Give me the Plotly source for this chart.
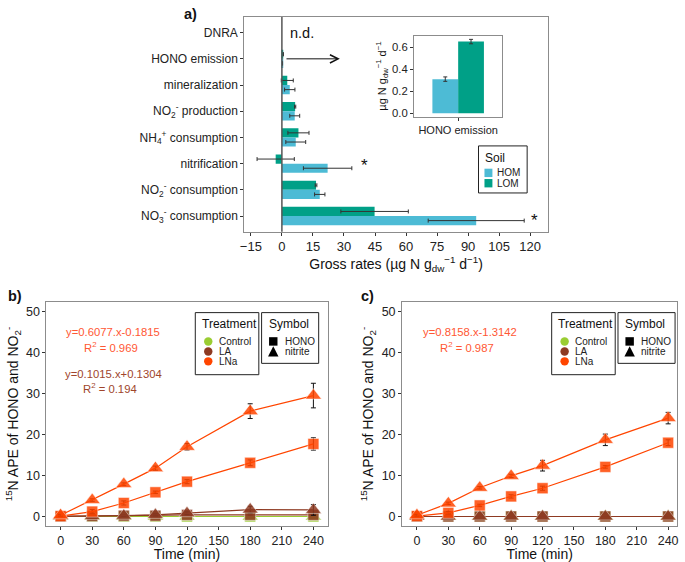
import plotly.graph_objects as go

W, H = 685, 562
FONT = "Liberation Sans, Arial, sans-serif"

# ---- panel a data ----
processes = ["DNRA", "HONO emission", "mineralization",
             "NO<sub>2</sub><sup>-</sup> production",
             "NH<sub>4</sub><sup>+</sup> consumption", "nitrification",
             "NO<sub>2</sub><sup>-</sup> consumption",
             "NO<sub>3</sub><sup>-</sup> consumption"]
hom = [None, 0.31, 3.8, 6.2, 6.7, 22.1, 18.3, 93.9]
hom_err = [None, 0.02, 2.5, 2.4, 4.8, 11.7, 2.5, 23.2]
lom = [None, 0.65, 2.6, 6.4, 8.0, -3.0, 16.5, 44.8]
lom_err = [None, 0.02, 2.9, 0.3, 5.1, 9.0, 0.4, 16.3]

inset_cat = ["HONO emission"]
inset_hom = [0.31]
inset_hom_err = [0.02]
inset_lom = [0.65]
inset_lom_err = [0.02]

# ---- panels b, c data ----
time = [0, 30, 60, 90, 120, 180, 240]
b_lna_nitrite = [0.3, 4.0, 7.9, 11.8, 17.0, 25.7, 29.5]
b_lna_nitrite_err = [0.2, 0.3, 0.3, 0.5, 0.8, 1.8, 3.0]
b_lna_hono = [0.1, 1.2, 3.3, 5.9, 8.5, 13.1, 17.7]
b_lna_hono_err = [0.1, 0.5, 0.5, 0.3, 0.5, 0.7, 1.5]
b_la_nitrite = [0.1, 0.1, 0.2, 0.4, 0.8, 1.7, 1.6]
b_la_nitrite_err = [0.0, 0.1, 0.1, 0.2, 0.3, 0.8, 1.3]
b_la_hono = [0.0, 0.1, 0.2, 0.2, 0.4, 0.4, 0.4]
b_la_hono_err = [0.0, 0.1, 0.1, 0.1, 0.1, 0.1, 0.1]
b_ctrl_nitrite = [0.0, 0.0, 0.0, 0.0, 0.0, 0.0, 0.0]
b_ctrl_hono = [0.0, 0.0, 0.0, 0.0, 0.0, 0.0, 0.0]

c_lna_nitrite = [0.3, 3.2, 7.0, 9.9, 12.4, 18.7, 24.0]
c_lna_nitrite_err = [0.2, 0.3, 0.3, 0.4, 1.3, 1.4, 1.4]
c_lna_hono = [0.1, 0.9, 2.7, 4.9, 6.9, 12.1, 18.0]
c_lna_hono_err = [0.1, 0.3, 0.3, 0.4, 0.5, 0.3, 0.7]
c_la_nitrite = [0.0, 0.0, 0.0, 0.0, 0.0, 0.0, 0.0]
c_la_hono = [0.0, 0.0, 0.0, 0.0, 0.0, 0.0, 0.0]
c_ctrl_nitrite = [0.0, 0.0, 0.0, 0.0, 0.0, 0.0, 0.0]
c_ctrl_hono = [0.0, 0.0, 0.0, 0.0, 0.0, 0.0, 0.0]

HOM_C = "#4DBBD5"
LOM_C = "#00A087"
CTRL_C = "#9ACD32"
LA_C = "#8E3A22"
LNA_C = "#FF4500"


def px(x):
    return x / W


def py(y):
    return 1 - y / H


fig = go.Figure()

# panel a bars (green above, blue below)
fig.add_trace(go.Bar(y=processes, x=lom, orientation="h", width=0.35, offset=-0.35,
                     marker=dict(color=LOM_C, line_width=0), xaxis="x", yaxis="y",
                     error_x=dict(type="data", array=lom_err, color="#333", thickness=1, width=2),
                     showlegend=False))
fig.add_trace(go.Bar(y=processes, x=hom, orientation="h", width=0.35, offset=0,
                     marker=dict(color=HOM_C, line_width=0), xaxis="x", yaxis="y",
                     error_x=dict(type="data", array=hom_err, color="#333", thickness=1, width=2),
                     showlegend=False))

# inset bars
fig.add_trace(go.Bar(x=inset_cat, y=inset_hom, width=0.35, offset=-0.35,
                     marker=dict(color=HOM_C, line_width=0), xaxis="x2", yaxis="y2",
                     error_y=dict(type="data", array=inset_hom_err, color="#333", thickness=1, width=2),
                     showlegend=False))
fig.add_trace(go.Bar(x=inset_cat, y=inset_lom, width=0.35, offset=0,
                     marker=dict(color=LOM_C, line_width=0), xaxis="x2", yaxis="y2",
                     error_y=dict(type="data", array=inset_lom_err, color="#333", thickness=1, width=2),
                     showlegend=False))


def add_series(xa, ya, y, err, color, symbol, size):
    fig.add_trace(go.Scatter(
        x=time, y=y, mode="lines+markers", xaxis=xa, yaxis=ya, showlegend=False,
        line=dict(color=color, width=1.2),
        marker=dict(symbol=symbol, size=size, color=color, opacity=0.85,
                    line=dict(color="rgba(255,255,255,0.5)", width=1)),
        error_y=dict(type="data", array=err, color="#111", thickness=1, width=2.5)
        if err is not None else None))


zeros_err = None
add_series("x3", "y3", b_ctrl_hono, zeros_err, CTRL_C, "square", 11)
add_series("x3", "y3", b_ctrl_nitrite, zeros_err, CTRL_C, "triangle-up", 14)
add_series("x3", "y3", b_la_hono, b_la_hono_err, LA_C, "square", 11)
add_series("x3", "y3", b_la_nitrite, b_la_nitrite_err, LA_C, "triangle-up", 14)
add_series("x3", "y3", b_lna_hono, b_lna_hono_err, LNA_C, "square", 11)
add_series("x3", "y3", b_lna_nitrite, b_lna_nitrite_err, LNA_C, "triangle-up", 14)

add_series("x4", "y4", c_ctrl_hono, zeros_err, CTRL_C, "square", 11)
add_series("x4", "y4", c_ctrl_nitrite, zeros_err, CTRL_C, "triangle-up", 14)
add_series("x4", "y4", c_la_hono, zeros_err, LA_C, "square", 11)
add_series("x4", "y4", c_la_nitrite, zeros_err, LA_C, "triangle-up", 14)
add_series("x4", "y4", c_lna_hono, c_lna_hono_err, LNA_C, "square", 11)
add_series("x4", "y4", c_lna_nitrite, c_lna_nitrite_err, LNA_C, "triangle-up", 14)


def axis(size=12.5, **kw):
    d = dict(showline=True, mirror=True, linecolor="#8c8c8c", linewidth=1,
             ticks="outside", ticklen=3, tickcolor="#333", showgrid=False,
             zeroline=False, tickfont=dict(size=size, color="#222", family=FONT))
    d.update(kw)
    return d


title_font = dict(size=14, color="#111", family=FONT)
ytitle_b = "<sup>15</sup>N APE of HONO and NO<sub>2</sub><sup>-</sup>"
xticks_bc = [0, 30, 60, 90, 120, 150, 180, 210, 240]

fig.update_layout(
    width=W, height=H, margin=dict(l=0, r=0, t=0, b=0),
    paper_bgcolor="white", plot_bgcolor="white", showlegend=False, hovermode=False,
    font=dict(family=FONT, color="#222"),
    xaxis=axis(13, domain=[px(242), px(548)], range=[-18.2, 128.6], tickvals=list(range(-15, 121, 15)),
               anchor="y", title=dict(text="Gross rates (µg N g<sub>dw</sub><sup>−1</sup> d<sup>−1</sup>)",
                                      font=title_font, standoff=3)),
    yaxis=axis(12, domain=[py(233), py(17)], type="category", categoryorder="array",
               categoryarray=processes, range=[7.6, -0.6], anchor="x"),
    xaxis2=axis(11, domain=[px(413), px(502)], range=[-0.6, 0.6], type="category", anchor="y2"),
    yaxis2=axis(11.3, domain=[py(117.3), py(35.7)], range=[-0.03, 0.705], tickvals=[0, 0.2, 0.4, 0.6],
                tickformat=".1f", anchor="x2",
                title=dict(text="µg N g<sub>dw</sub><sup>−1</sup> d<sup>−1</sup>",
                           font=dict(size=11, color="#111", family=FONT), standoff=3)),
    xaxis3=axis(12.5, domain=[px(42.7), px(326)], range=[-13.5, 253.5], tickvals=xticks_bc,
                anchor="y3", title=dict(text="Time (min)", font=title_font, standoff=3)),
    yaxis3=axis(12.5, domain=[py(529.3), py(303.3)], range=[-2.43, 52.4], tickvals=[0, 10, 20, 30, 40, 50],
                anchor="x3", title=dict(text=ytitle_b, font=title_font, standoff=4)),
    xaxis4=axis(12.5, domain=[px(401), px(678.3)], range=[-14.2, 248.8], tickvals=xticks_bc,
                anchor="y4", title=dict(text="Time (min)", font=title_font, standoff=3)),
    yaxis4=axis(12.5, domain=[py(529.3), py(303.3)], range=[-2.43, 52.4], tickvals=[0, 10, 20, 30, 40, 50],
                anchor="x4", title=dict(text=ytitle_b, font=title_font, standoff=4)),
)

shapes = []
ann = []


def label(x, y, text, size, color="#222", anchor="left"):
    ann.append(dict(x=px(x), y=py(y), xref="paper", yref="paper", text=text, showarrow=False,
                    xanchor=anchor, yanchor="middle", borderpad=0,
                    font=dict(size=size, color=color)))


# zero line in panel a
shapes.append(dict(type="line", xref="x", yref="paper", x0=0, x1=0, y0=py(233), y1=py(17),
                   line=dict(color="#555", width=1.5), layer="above"))

# annotations for panel a
ann.append(dict(x=9.8, y="DNRA", xref="x", yref="y", text="n.d.", showarrow=False,
                font=dict(size=14.5, color="#111"), xanchor="center", yanchor="middle"))
ann.append(dict(x=28, y="HONO emission", xref="x", yref="y", ax=1.5, ay="HONO emission",
                axref="x", ayref="y", text="", showarrow=True, arrowhead=5, arrowsize=1.6,
                arrowwidth=1, arrowcolor="#111"))
ann.append(dict(x=40, y="nitrification", xref="x", yref="y", text="*", showarrow=False,
                xanchor="center", yanchor="middle", font=dict(size=17, color="#111"), yshift=-2))
ann.append(dict(x=122, y="NO<sub>3</sub><sup>-</sup> consumption", xref="x", yref="y", text="*",
                xanchor="center", yanchor="middle", showarrow=False,
                font=dict(size=17, color="#111"), yshift=-4))

# panel labels
for lab, x, y in [("a)", 188, 14), ("b)", 11, 298), ("c)", 366, 298)]:
    label(x, y, "<b>%s</b>" % lab, 14.5, "#111", "center")

# Soil legend box
shapes.append(dict(type="rect", xref="paper", yref="paper", x0=px(478), x1=px(527), y0=py(194),
                   y1=py(146.7), line=dict(color="#222", width=1), fillcolor="white"))
label(484, 159, "Soil", 12, "#111")
for name, col, yy in [("HOM", HOM_C, 173.8), ("LOM", LOM_C, 184.2)]:
    shapes.append(dict(type="rect", xref="paper", yref="paper", x0=px(484), x1=px(492),
                       y0=py(yy + 4.2), y1=py(yy - 4.2), line_width=0, fillcolor=col))
    label(496, yy, name, 10)


def treat_symbol_legends(dx):
    shapes.append(dict(type="rect", xref="paper", yref="paper", x0=px(192.7 + dx), x1=px(256.7 + dx),
                       y0=py(376.7), y1=py(314.3), line=dict(color="#222", width=1), fillcolor="white"))
    label(198 + dx, 326, "Treatment", 12, "#111")
    for name, col, yy in [("Control", CTRL_C, 343.3), ("LA", LA_C, 353.3), ("LNa", LNA_C, 363.3)]:
        shapes.append(dict(type="circle", xref="paper", yref="paper", x0=px(201.5 + dx),
                           x1=px(210 + dx), y0=py(yy + 4.25), y1=py(yy - 4.25), line_width=0,
                           fillcolor=col))
        label(215.5 + dx, yy, name, 10)
    sx = 259.5 + dx
    shapes.append(dict(type="rect", xref="paper", yref="paper", x0=px(sx), x1=px(sx + 57.5),
                       y0=py(365.3), y1=py(314.3), line=dict(color="#222", width=1), fillcolor="white"))
    label(sx + 6, 326, "Symbol", 12, "#111")
    shapes.append(dict(type="rect", xref="paper", yref="paper", x0=px(sx + 7.5), x1=px(sx + 16),
                       y0=py(347.5), y1=py(339), line_width=0, fillcolor="black"))
    tx0, tx1, tmid = px(sx + 6.5), px(sx + 17), px(sx + 11.75)
    shapes.append(dict(type="path", xref="paper", yref="paper",
                       path="M %f %f L %f %f L %f %f Z" % (tx0, py(358.5), tx1, py(358.5), tmid, py(348)),
                       line_width=0, fillcolor="black"))
    label(sx + 22.5, 343.3, "HONO", 10)
    label(sx + 22.5, 353.3, "nitrite", 10)


treat_symbol_legends(0)
treat_symbol_legends(359)

# regression equations
REG_LNA = "#FF5733"
REG_LA = "#A0452B"
for txt, x, y, col in [("y=0.6077.x-0.1815", 110, 334, REG_LNA),
                       ("R<sup>2</sup> = 0.969", 108, 349, REG_LNA),
                       ("y=0.1015.x+0.1304", 110, 376.5, REG_LA),
                       ("R<sup>2</sup> = 0.194", 107, 390.5, REG_LA),
                       ("y=0.8158.x-1.3142", 469, 334, REG_LNA),
                       ("R<sup>2</sup> = 0.987", 466, 349, REG_LNA)]:
    label(x, y, txt, 11.3, col, "center")

fig.update_layout(shapes=shapes, annotations=ann)
fig.write_html("out.html", config={"displayModeBar": False},
               post_script="document.body.style.margin='0';")
